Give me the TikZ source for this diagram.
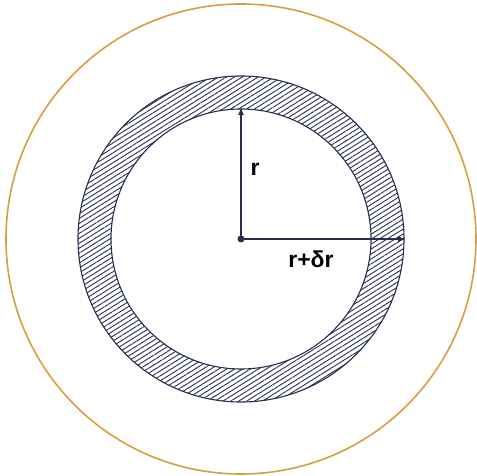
\documentclass[tikz,border=0pt]{standalone}
\usepackage{fontspec}
\setsansfont{Liberation Sans}
\usetikzlibrary{arrows.meta,patterns.meta,positioning}
\definecolor{ringblue}{RGB}{40,44,78}
\definecolor{rimgold}{RGB}{212,160,62}

\begin{document}
\begin{tikzpicture}[
  x=1pt, y=1pt,
  font=\sffamily\bfseries\fontsize{23}{27}\selectfont,
  rim/.style={draw=rimgold, line width=1.6pt},
  ring/.style={draw=ringblue, line width=1.1pt},
  hatch/.style={pattern={Lines[angle=32, distance=4.2pt, line width=0.9pt]}, pattern color=ringblue},
  arrow/.style={-{Latex[length=8pt, width=6pt]}, draw=ringblue, line width=1.4pt}
]
\useasboundingbox (-241,-237) rectangle (236,239);

\coordinate (o) at (0,0);

% outer boundary
\draw[rim] (o) circle (235);

% hatched shell between r and r+dr
\fill[hatch, even odd rule] (o) circle (163) (o) circle (130);
\draw[ring] (o) circle (163);
\draw[ring] (o) circle (130);

% radii
\coordinate (rtop) at (0,132);
\coordinate (rright) at (165,0);
\draw[arrow] (o) -- (rtop);
\draw[arrow] (o) -- (rright);
\fill[ringblue] (o) circle (3.5);

\node (rlab) at (14,70) {r};
\node (drlab) at (70,-20) {r+δr};

\end{tikzpicture}
\end{document}
